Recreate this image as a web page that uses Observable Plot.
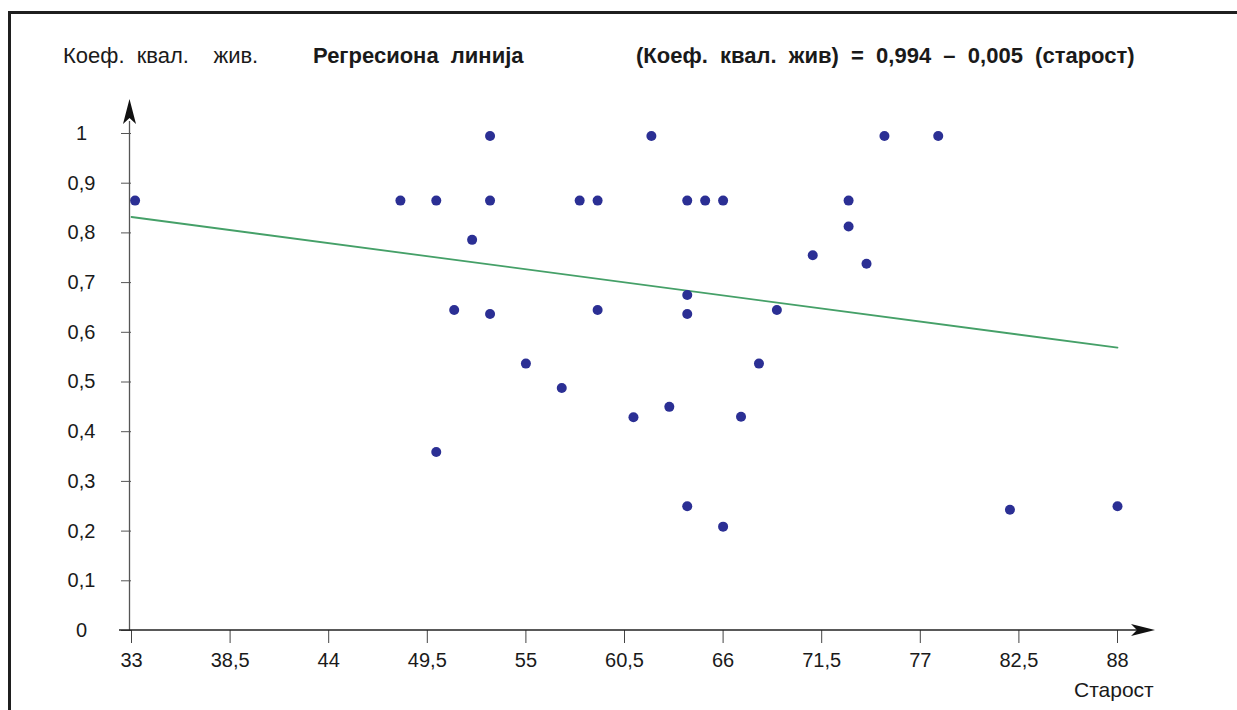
<!DOCTYPE html>
<html>
<head>
<meta charset="utf-8">
<script src="https://cdn.jsdelivr.net/npm/d3@7"></script>
<script src="https://cdn.jsdelivr.net/npm/@observablehq/plot@0.6"></script>
<style>
  html, body { margin: 0; padding: 0; background: #fff; }
  #page { position: relative; width: 1237px; height: 710px; overflow: hidden; font-family: "Liberation Sans", Arial, sans-serif; color: #1a1a1a; }
  #frame { position: absolute; left: 8px; top: 11px; right: -20px; bottom: -20px; border-top: 3px solid #1f1f1f; border-left: 3px solid #1f1f1f; }
  .t { position: absolute; white-space: pre; font-size: 22px; line-height: 1; }
  .b { font-weight: bold; }
  #chart { position: absolute; left: 0; top: 0; }
</style>
</head>
<body>
<div id="page">
  <div id="chart"></div>
  <div id="frame"></div>
  <div class="t" style="left:63px; top:45px;">Коеф.  квал.    жив.</div>
  <div class="t b" style="left:313px; top:45px;">Регресиона  линија</div>
  <div class="t b" style="left:636px; top:45px;">(Коеф.  квал.  жив)  =  0,994  –  0,005  (старост)</div>
  <div class="t" style="left:1074px; top:679px; font-size:21px;">Старост</div>
</div>
<script>
// Data
const age = [33.2, 48, 50, 53, 58, 59, 64, 65, 66, 73,
             53, 62, 75, 78,
             52, 64, 51, 53, 59, 64, 69,
             50, 55, 57, 61, 63, 67, 68,
             64, 66, 71, 73, 74, 82, 88];
const coef = [0.865, 0.865, 0.865, 0.865, 0.865, 0.865, 0.865, 0.865, 0.865, 0.865,
              0.995, 0.995, 0.995, 0.995,
              0.786, 0.675, 0.645, 0.637, 0.645, 0.637, 0.645,
              0.359, 0.537, 0.488, 0.429, 0.45, 0.43, 0.537,
              0.25, 0.209, 0.755, 0.813, 0.738, 0.243, 0.25];
const lineAge = [33, 88];
const lineCoef = [0.832, 0.569];
const xTicks = [33, 38.5, 44, 49.5, 55, 60.5, 66, 71.5, 77, 82.5, 88];
const yTicks = [0, 0.1, 0.2, 0.3, 0.4, 0.5, 0.6, 0.7, 0.8, 0.9, 1];

const points = age.map((a, i) => ({age: a, coef: coef[i]}));
const reg = lineAge.map((a, i) => ({age: a, coef: lineCoef[i]}));
const fmt = d => String(d).replace(".", ",");

function axesWithArrows(index, scales, values, dims) {
  const {marginLeft: L, marginTop: T, marginRight: R, marginBottom: B, width: W, height: H} = dims;
  const y0 = H - B, xL = L - 1.5;
  const g = d3.create("svg:g");
  g.append("line").attr("x1", xL).attr("x2", xL).attr("y1", y0).attr("y2", T - 12)
    .attr("stroke", "#555").attr("stroke-width", 1.3);
  g.append("line").attr("x1", L - 12).attr("x2", W - R + 20).attr("y1", y0).attr("y2", y0)
    .attr("stroke", "#222").attr("stroke-width", 1.5);
  g.append("path").attr("fill", "#111")
    .attr("d", `M${W - R + 38},${y0} L${W - R + 14},${y0 - 6} L${W - R + 20},${y0} L${W - R + 14},${y0 + 6} Z`);
  g.append("path").attr("fill", "#111")
    .attr("d", `M${xL},${T - 34} L${xL - 6.5},${T - 9} L${xL},${T - 15} L${xL + 6.5},${T - 9} Z`);
  return g.node();
}

const chart = Plot.plot({
  width: 1237,
  height: 710,
  marginLeft: 131,
  marginRight: 120,
  marginTop: 133,
  marginBottom: 80,
  style: {fontFamily: "Liberation Sans, Arial, sans-serif", fontSize: "20px", color: "#1a1a1a", background: "transparent"},
  x: {domain: [33, 88]},
  y: {domain: [0, 1]},
  marks: [
    Plot.axisY({ticks: yTicks, tickSize: 10, tickPadding: 40, textAnchor: "middle", tickFormat: fmt, label: null, stroke: "#555", fontSize: 20}),
    Plot.axisX({ticks: xTicks, tickSize: 13, tickPadding: 9, tickFormat: fmt, label: null, stroke: "#444", fontSize: 20}),
    Plot.line(reg, {x: "age", y: "coef", stroke: "#45a068", strokeWidth: 1.8}),
    Plot.dot(points, {x: "age", y: "coef", r: 5, fill: "#2b2f94", stroke: "none"}),
    axesWithArrows
  ]
});
document.getElementById("chart").appendChild(chart);
</script>
</body>
</html>
